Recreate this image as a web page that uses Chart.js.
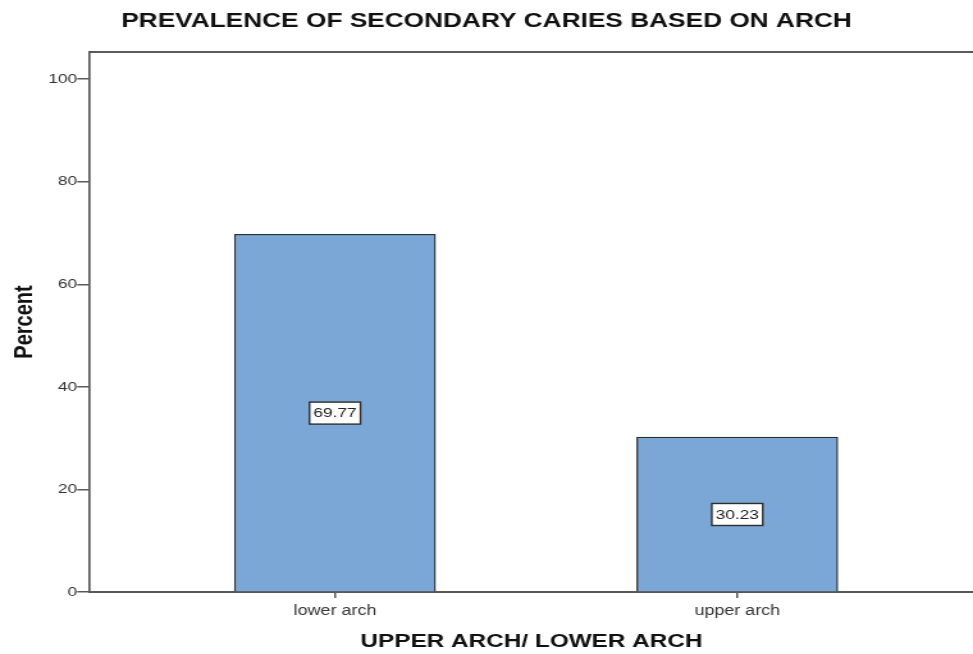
<!DOCTYPE html>
<html>
<head>
<meta charset="utf-8">
<title>Prevalence of secondary caries based on arch</title>
<script src="https://cdn.jsdelivr.net/npm/chart.js@4/dist/chart.umd.min.js"></script>
<style>
  html, body { margin: 0; padding: 0; background: #ffffff; }
</style>
</head>
<body>
<!-- the chart is drawn on a narrower bitmap and shown widened -->
<canvas id="chart" width="760" height="654" style="display:block;width:973px;height:654px"></canvas>
<script>
// ---- data ----
const categories = ['lower arch', 'upper arch'];
const percentValues = [69.77, 30.23];
const yTickValues = [0, 20, 40, 60, 80, 100];

const chartTitle = 'PREVALENCE OF SECONDARY CARIES BASED ON ARCH';
const xAxisTitle = 'UPPER ARCH/ LOWER ARCH';
const yAxisTitle = 'Percent';

const FONT = '"Liberation Sans", Arial, Helvetica, sans-serif';
const BAR_FILL = 'rgb(122,167,213)';
const EDGE = '#2e2e2e';
const AXIS = '#5a5a5a';

// top edge of the plot frame
const frameTop = {
  id: 'frameTop',
  afterDraw(chart) {
    const { ctx, chartArea } = chart;
    ctx.save();
    ctx.strokeStyle = AXIS;
    ctx.lineWidth = 2;
    ctx.beginPath();
    ctx.moveTo(chartArea.left - 0.8, chartArea.top);
    ctx.lineTo(chartArea.right, chartArea.top);
    ctx.stroke();
    ctx.restore();
  }
};

// boxed value label at the middle of each bar
const valueBoxes = {
  id: 'valueBoxes',
  afterDatasetsDraw(chart) {
    const { ctx } = chart;
    const yScale = chart.scales.y;
    const meta = chart.getDatasetMeta(0);
    const data = chart.data.datasets[0].data;
    ctx.save();
    ctx.font = '13.5px ' + FONT;
    ctx.textAlign = 'center';
    ctx.textBaseline = 'middle';
    meta.data.forEach((bar, i) => {
      const v = data[i].y;
      const text = v.toFixed(2);
      const cx = bar.x;
      const cy = yScale.getPixelForValue(v / 2);
      const w = ctx.measureText(text).width + 6;
      const h = 22;
      ctx.fillStyle = '#ffffff';
      ctx.fillRect(cx - w / 2, cy - h / 2, w, h);
      ctx.strokeStyle = EDGE;
      ctx.lineWidth = 1.4;
      ctx.strokeRect(cx - w / 2, cy - h / 2, w, h);
      ctx.fillStyle = '#222222';
      ctx.fillText(text, cx, cy + 0.5);
    });
    ctx.restore();
  }
};

new Chart(document.getElementById('chart'), {
  type: 'bar',
  data: {
    datasets: [{
      data: categories.map((c, i) => ({ x: i, y: percentValues[i] })),
      backgroundColor: BAR_FILL,
      borderColor: EDGE,
      borderWidth: 1.3,
      borderSkipped: 'bottom',
      barThickness: 157
    }]
  },
  options: {
    responsive: false,
    devicePixelRatio: 1,
    animation: false,
    layout: { padding: { left: 0, right: 0, top: 0, bottom: 0 } },
    plugins: {
      legend: { display: false },
      tooltip: { enabled: false },
      title: {
        display: true,
        text: chartTitle,
        color: '#111111',
        font: { family: FONT, size: 20.5, weight: 'bold' },
        padding: { top: 9, bottom: 18.4 }
      }
    },
    scales: {
      x: {
        type: 'linear',
        offset: false,
        min: -0.609,
        max: 1.586,
        grid: { display: true, offset: false, drawOnChartArea: false, drawTicks: true, tickLength: 6, color: AXIS, lineWidth: 1.5 },
        border: { display: true, color: AXIS, width: 2 },
        ticks: {
          stepSize: 1,
          includeBounds: false,
          autoSkip: false,
          maxRotation: 0,
          padding: 5,
          color: '#333333',
          font: { family: FONT, size: 14 },
          callback: (v) => categories[v] ?? ''
        },
        title: {
          display: true,
          text: xAxisTitle,
          color: '#111111',
          font: { family: FONT, size: 19, weight: 'bold' },
          padding: { top: 0, bottom: 1 }
        },
        afterFit(scale) { scale.height = 62; }
      },
      y: {
        min: 0,
        max: 105.3,
        grid: { display: true, drawOnChartArea: false, drawTicks: true, tickLength: 10, color: AXIS, lineWidth: 1.5 },
        border: { display: true, color: AXIS, width: 1.7 },
        afterBuildTicks(scale) { scale.ticks = yTickValues.map(v => ({ value: v })); },
        ticks: {
          padding: 0,
          color: '#333333',
          font: { family: FONT, size: 13.5 }
        },
        title: {
          display: true,
          text: yAxisTitle,
          color: '#111111',
          font: { family: FONT, size: 20, weight: 'bold' },
          padding: { top: 7, bottom: 0 }
        },
        afterFit(scale) { scale.width = 70.3; }
      }
    }
  },
  plugins: [frameTop, valueBoxes]
});
</script>
</body>
</html>
